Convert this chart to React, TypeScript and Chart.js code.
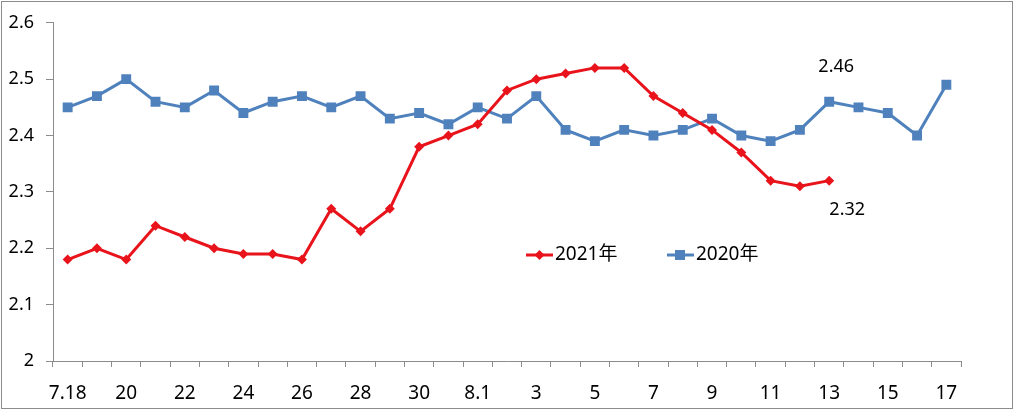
import React, { useEffect, useRef } from 'react';
import { Chart, registerables } from 'chart.js';

Chart.register(...registerables);

const categories = [
  '7.18', '7.19', '7.20', '7.21', '7.22', '7.23', '7.24', '7.25', '7.26', '7.27', '7.28', '7.29', '7.30', '7.31',
  '8.1', '8.2', '8.3', '8.4', '8.5', '8.6', '8.7', '8.8', '8.9', '8.10', '8.11', '8.12', '8.13', '8.14', '8.15', '8.16', '8.17',
];

const tickLabels = [
  '7.18', '', '20', '', '22', '', '24', '', '26', '', '28', '', '30', '',
  '8.1', '', '3', '', '5', '', '7', '', '9', '', '11', '', '13', '', '15', '', '17',
];

const values2021 = [
  2.18, 2.2, 2.18, 2.24, 2.22, 2.2, 2.19, 2.19, 2.18, 2.27, 2.23, 2.27, 2.38, 2.4,
  2.42, 2.48, 2.5, 2.51, 2.52, 2.52, 2.47, 2.44, 2.41, 2.37, 2.32, 2.31, 2.32,
];

const values2020 = [
  2.45, 2.47, 2.5, 2.46, 2.45, 2.48, 2.44, 2.46, 2.47, 2.45, 2.47, 2.43, 2.44, 2.42,
  2.45, 2.43, 2.47, 2.41, 2.39, 2.41, 2.4, 2.41, 2.43, 2.4, 2.39, 2.41, 2.46, 2.45, 2.44, 2.4, 2.49,
];

const seriesNames = ['2021年', '2020年'];
const annotationTexts = ['2.32', '2.46'];
const annotationIndex = 26;

const RED = '#e8131b';
const BLUE = '#4f81bd';
const AXIS = '#8c8c8c';
const FONT = '"Noto Sans", "Noto Sans CJK SC", sans-serif';

export default function App() {
  const ref = useRef<HTMLCanvasElement | null>(null);

  useEffect(() => {
    const canvas = ref.current;
    if (!canvas) return;

    const framePlugin = {
      id: 'frame',
      beforeDraw(chart: any) {
        const ctx = chart.ctx;
        ctx.save();
        ctx.fillStyle = '#ffffff';
        ctx.fillRect(0, 0, chart.width, chart.height);
        ctx.strokeStyle = AXIS;
        ctx.lineWidth = 1;
        ctx.strokeRect(1.5, 1.5, 1011, 407);
        ctx.restore();
      },
    };

    const extrasPlugin = {
      id: 'extras',
      afterDraw(chart: any) {
        const ctx = chart.ctx;
        const xs = chart.scales.x;
        const ys = chart.scales.y;
        ctx.save();
        // annotations
        ctx.fillStyle = '#000';
        ctx.font = `18px ${FONT}`;
        ctx.textAlign = 'center';
        ctx.textBaseline = 'middle';
        const px = xs.getPixelForValue(annotationIndex);
        const yRed = ys.getPixelForValue(values2021[annotationIndex]);
        const yBlue = ys.getPixelForValue(values2020[annotationIndex]);
        ctx.fillText(annotationTexts[0], px + 18, yRed + 29);
        ctx.fillText(annotationTexts[1], px + 7, yBlue - 35);

        // legend
        const ly = 255;
        ctx.lineWidth = 3;
        // 2021
        ctx.strokeStyle = RED;
        ctx.beginPath();
        ctx.moveTo(526, ly);
        ctx.lineTo(553, ly);
        ctx.stroke();
        ctx.fillStyle = RED;
        ctx.beginPath();
        ctx.moveTo(539.5, ly - 5);
        ctx.lineTo(544.5, ly);
        ctx.lineTo(539.5, ly + 5);
        ctx.lineTo(534.5, ly);
        ctx.closePath();
        ctx.fill();
        // 2020
        ctx.strokeStyle = BLUE;
        ctx.beginPath();
        ctx.moveTo(667, ly);
        ctx.lineTo(694, ly);
        ctx.stroke();
        ctx.fillStyle = BLUE;
        ctx.fillRect(675, ly - 5, 10, 10);

        ctx.fillStyle = '#000';
        ctx.font = `19px ${FONT}`;
        ctx.textAlign = 'left';
        ctx.fillText(seriesNames[0], 555, ly);
        ctx.fillText(seriesNames[1], 696, ly);
        ctx.restore();
      },
    };

    const chart = new Chart(canvas, {
      type: 'line',
      data: {
        labels: categories,
        datasets: [
          {
            label: seriesNames[0],
            data: values2021,
            borderColor: RED,
            backgroundColor: RED,
            pointBackgroundColor: RED,
            pointBorderColor: RED,
            borderWidth: 3,
            pointStyle: 'rectRot',
            pointRadius: 5,
            pointBorderWidth: 0,
            tension: 0,
          },
          {
            label: seriesNames[1],
            data: values2020,
            borderColor: BLUE,
            backgroundColor: BLUE,
            pointBackgroundColor: BLUE,
            pointBorderColor: BLUE,
            borderWidth: 3,
            pointStyle: 'rect',
            pointRadius: 7,
            pointBorderWidth: 0,
            tension: 0,
          },
        ],
      },
      options: {
        animation: false,
        responsive: false,
        maintainAspectRatio: false,
        layout: { padding: { left: 0, top: 17, right: 55, bottom: 0 } },
        plugins: {
          legend: { display: false },
          tooltip: { enabled: false },
        },
        scales: {
          x: {
            offset: true,
            grid: { offset: true, drawOnChartArea: false, drawTicks: true, tickLength: 6, color: AXIS },
            border: { color: AXIS, width: 1 },
            ticks: {
              autoSkip: false,
              maxRotation: 0,
              minRotation: 0,
              color: '#000',
              padding: 15,
              font: { size: 19, family: FONT },
              callback: (_v: any, i: number) => tickLabels[i],
            },
            afterFit: (s: any) => {
              s.height = 50;
            },
          },
          y: {
            min: 2,
            max: 2.6,
            grid: { drawOnChartArea: false, drawTicks: true, tickLength: 7, color: AXIS },
            border: { color: AXIS, width: 1 },
            ticks: {
              stepSize: 0.1,
              color: '#000',
              padding: 12,
              font: { size: 18, family: FONT },
              callback: (v: any) => String(Number(Number(v).toFixed(1))),
            },
            afterFit: (s: any) => {
              s.width = 53;
            },
          },
        },
      },
      plugins: [framePlugin, extrasPlugin],
    });

    return () => chart.destroy();
  }, []);

  return (
    <div style={{ position: 'absolute', left: 0, top: 0, width: 1016, height: 411, background: '#fff' }}>
      <canvas ref={ref} width={1016} height={411} style={{ display: 'block', width: 1016, height: 411 }} />
    </div>
  );
}
